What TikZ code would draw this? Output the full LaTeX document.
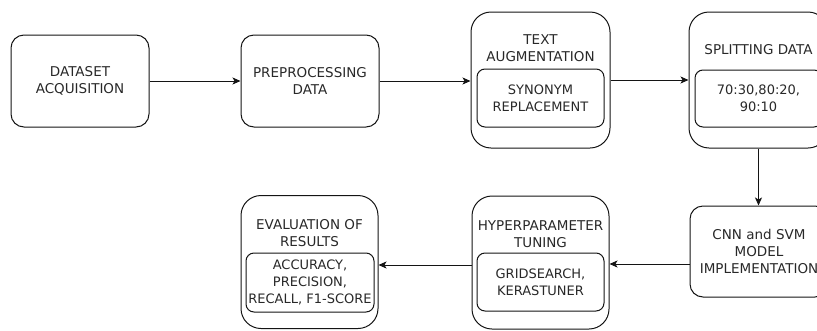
\documentclass[tikz,border=0pt]{standalone}
\usepackage{fontspec}
\setmainfont{DejaVu Sans}
\usetikzlibrary{arrows.meta}
\definecolor{txt}{RGB}{40,40,40}
\definecolor{ln}{RGB}{20,20,20}
\tikzset{
  box/.style={draw=ln, line width=1pt, rectangle, inner sep=0pt},
  lbl/.style={text=txt, align=center, inner sep=0pt, font=\fontsize{13.5}{16.7}\selectfont},
  ilbl/.style={text=txt, align=center, inner sep=0pt, font=\fontsize{13}{16.7}\selectfont},
  arr/.style={draw=ln, line width=1pt, -{Stealth[length=8pt,width=7pt,inset=2pt]}}
}
\begin{document}
\begin{tikzpicture}[x=1pt,y=-1pt]
\useasboundingbox (0,0) rectangle (817,330);
\clip (0,0) rectangle (817,330);
% row 1
\node[box, rounded corners=13pt, minimum width=138pt, minimum height=92pt] (b1) at (80,81) {};
\node[lbl] (t1) at (b1) {DATASET\\ACQUISITION};
\node[box, rounded corners=13pt, minimum width=138pt, minimum height=92pt] (b2) at (310,81) {};
\node[lbl] (t2) at (b2) {PREPROCESSING\\DATA};
\node[box, rounded corners=20pt, minimum width=139pt, minimum height=136pt] (b3) at (540.5,80) {};
\node[lbl] (t3) at (540.5,48.5) {TEXT\\AUGMENTATION};
\node[box, rounded corners=8pt, minimum width=127pt, minimum height=58pt] (b3i) at (540.5,98) {};
\node[ilbl] (t3i) at (b3i) {SYNONYM\\REPLACEMENT};
\node[box, rounded corners=20pt, minimum width=139pt, minimum height=136pt] (b4) at (758.5,80) {};
\node[lbl] (t4) at (758.5,50) {SPLITTING DATA};
\node[box, rounded corners=8pt, minimum width=127pt, minimum height=57pt] (b4i) at (758.5,98.5) {};
\node[ilbl] (t4i) at (b4i) {70:30,80:20,\\90:10};
% row 2
\node[box, rounded corners=13pt, minimum width=138pt, minimum height=91pt] (b5) at (759,251.5) {};
\node[lbl] (t5) at (b5) {CNN and SVM\\MODEL\\IMPLEMENTATION};
\node[box, rounded corners=20pt, minimum width=137pt, minimum height=133pt] (b6) at (540.5,262.5) {};
\node[lbl] (t6) at (540.5,234) {HYPERPARAMETER\\TUNING};
\node[box, rounded corners=8pt, minimum width=127pt, minimum height=58pt] (b6i) at (540.5,282) {};
\node[ilbl] (t6i) at (b6i) {GRIDSEARCH,\\KERASTUNER};
\node[box, rounded corners=20pt, minimum width=137pt, minimum height=133pt] (b7) at (309.5,262) {};
\node[lbl] (t7) at (309.5,233) {EVALUATION OF\\RESULTS};
\node[box, rounded corners=8pt, minimum width=128pt, minimum height=59pt] (b7i) at (310,282.5) {};
\node[ilbl] (t7i) at (b7i) {ACCURACY,\\PRECISION,\\RECALL, F1-SCORE};
% connectors
\draw[arr] (b1.east) -- (b2.west);
\draw[arr] (b2.east) -- (b2.east -| b3.west);
\draw[arr] (b3.east) -- (b4.west);
\draw[arr] (b4.south) -- (b4.south |- b5.north);
\coordinate (c5) at ([yshift=-12.5pt]b5.west);
\draw[arr] (c5) -- (c5 -| b6.east);
\coordinate (c6) at ([yshift=-2.5pt]b6.west);
\draw[arr] (c6) -- (c6 -| b7.east);
\end{tikzpicture}
\end{document}
